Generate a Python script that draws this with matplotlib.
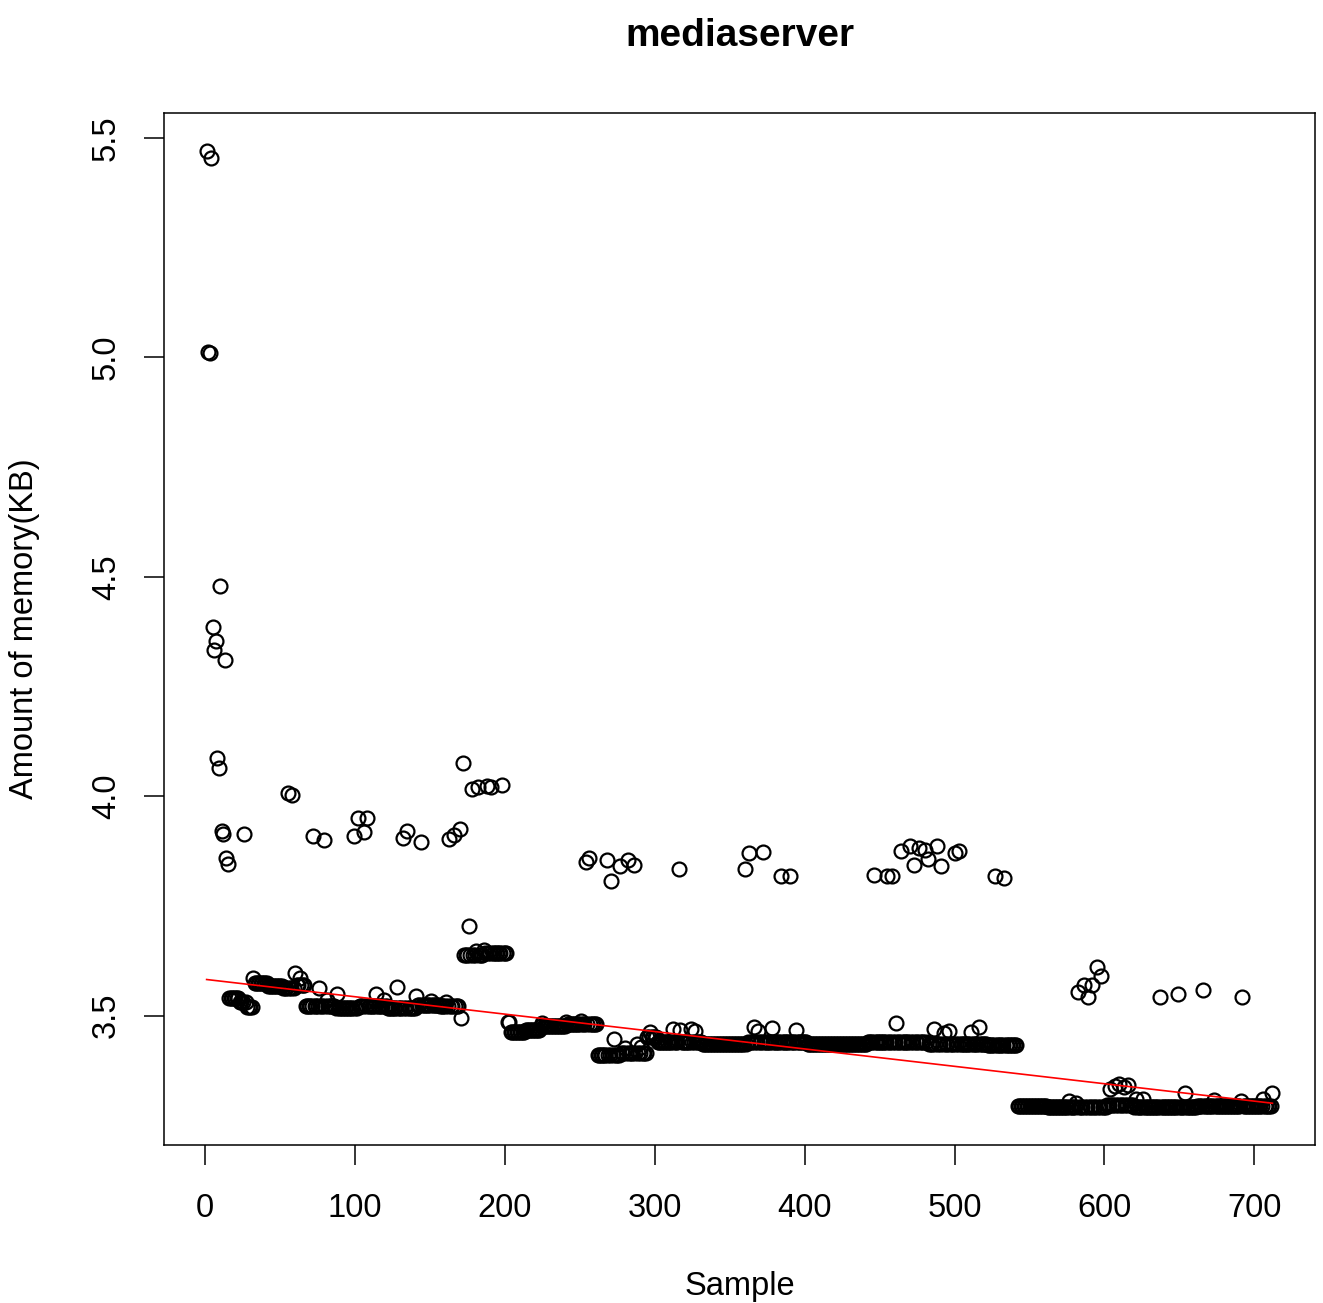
import numpy as np
import matplotlib
matplotlib.use("Agg")
from matplotlib import pyplot as plt

# ---------------- data ----------------
n_samples = 712

# flat bands of the memory trace: first sample, last sample, level (KB)
band_start = [15, 22, 27, 31, 41, 51, 59, 66, 86, 101, 121, 141, 156, 170,
              171, 186, 201, 203, 213, 223, 241, 261, 276,
              294, 301, 331, 361, 401, 441, 481, 521,
              541, 561, 601, 619, 661]
band_end = [21, 26, 30, 40, 50, 58, 65, 85, 100, 120, 140, 155, 169, 170,
            185, 200, 202, 212, 222, 240, 260, 275, 293,
            300, 330, 360, 400, 440, 480, 520, 540,
            560, 600, 618, 660, 711]
band_level = [3.540, 3.530, 3.519, 3.575, 3.568, 3.562, 3.570, 3.522, 3.518,
              3.522, 3.518, 3.525, 3.522, 3.494,
              3.638, 3.642, 3.485, 3.462, 3.468, 3.475, 3.480, 3.410, 3.414,
              3.452, 3.440, 3.434, 3.440, 3.436, 3.440, 3.436, 3.432,
              3.294, 3.292, 3.296, 3.292, 3.294]

# single samples that sit off the bands
spike_idx = [0, 1, 2, 3, 4, 5, 6, 7, 8, 9, 10, 11, 12, 13, 14,
             25, 54, 57, 71, 78, 98, 101, 105, 107, 131, 134, 143,
             162, 165, 169, 171, 175, 177, 181, 187, 190, 197,
             253, 255, 267, 270, 276, 281, 285, 315,
             359, 362, 371, 383, 389, 445, 454, 457,
             463, 469, 472, 475, 479, 481, 487, 490, 499, 502, 526, 532,
             581, 585, 588, 591, 594, 597, 636, 648, 665, 691,
             # small bumps just above the bands
             31, 59, 62, 75, 80, 87, 113, 118, 127, 140, 150, 160,
             180, 185, 224, 240, 250, 272, 279, 287, 290,
             296, 311, 316, 323, 326, 365, 368, 377, 393, 460, 485,
             492, 495, 510, 515,
             575, 580, 603, 606, 609, 612, 615, 620, 625, 653, 672,
             690, 705, 711]
spike_val = [5.470, 5.013, 5.009, 5.454, 4.385, 4.332, 4.353, 4.087, 4.065,
             4.478, 3.921, 3.914, 4.311, 3.859, 3.845,
             3.914, 4.007, 4.003, 3.909, 3.900, 3.909, 3.951, 3.919, 3.951,
             3.905, 3.921, 3.896, 3.903, 3.912, 3.925, 4.076, 3.703,
             4.017, 4.021, 4.023, 4.021, 4.026,
             3.850, 3.859, 3.854, 3.806, 3.841, 3.854, 3.843, 3.834,
             3.834, 3.870, 3.873, 3.818, 3.818, 3.820, 3.818, 3.818,
             3.875, 3.886, 3.843, 3.882, 3.877, 3.857, 3.886, 3.841,
             3.870, 3.875, 3.818, 3.813,
             3.553, 3.569, 3.543, 3.569, 3.610, 3.591, 3.543, 3.550,
             3.559, 3.543,
             3.585, 3.597, 3.585, 3.562, 3.535, 3.548, 3.548, 3.535,
             3.566, 3.545, 3.532, 3.530,
             3.646, 3.649, 3.484, 3.486, 3.487, 3.446, 3.425, 3.436, 3.428,
             3.462, 3.470, 3.468, 3.470, 3.465, 3.473, 3.465, 3.472, 3.466,
             3.482, 3.470, 3.460, 3.465, 3.462, 3.473,
             3.305, 3.300, 3.333, 3.340, 3.343, 3.338, 3.342, 3.310, 3.310,
             3.323, 3.308, 3.305, 3.310, 3.323]

memory = np.zeros(n_samples)
for s, e, lev in zip(band_start, band_end, band_level):
    memory[s:e + 1] = lev
memory[spike_idx] = spike_val
sample = np.arange(1, n_samples + 1)

# trend of the baseline (spikes above 3.7 KB left out of the fit)
base = memory < 3.7
slope, intercept = np.polyfit(sample[base], memory[base], 1)

# ---------------- figure ----------------
plt.rcParams['font.family'] = ['Liberation Sans', 'DejaVu Sans']

W, H = 1323, 1303
fig = plt.figure(figsize=(W / 100, H / 100), dpi=100)
ax = fig.add_axes([164 / W, (H - 1145) / H, (1315 - 164) / W, (1145 - 113) / H])

ax.plot(sample, memory, 'o', ms=10, mfc='none', mec='black', mew=1.6)
xl = np.array([sample.min(), sample.max()])
ax.plot(xl, intercept + slope * xl, color='red', lw=1.2)

# R style 4% padding
xr = sample.max() - sample.min()
yr = memory.max() - memory.min()
ax.set_xlim(sample.min() - 0.04 * xr, sample.max() + 0.04 * xr)
ax.set_ylim(memory.min() - 0.04 * yr, memory.max() + 0.04 * yr)

ax.set_xticks(np.arange(0, 701, 100))
ax.set_yticks([3.5, 4.0, 4.5, 5.0, 5.5])
ax.set_yticklabels(['3.5', '4.0', '4.5', '5.0', '5.5'])
ax.tick_params(axis='x', length=14.4, width=1.1, labelsize=23.5, pad=20)
ax.tick_params(axis='y', length=14.4, width=1.1, labelsize=23.5, pad=16,
               labelrotation=90)
for lab in ax.get_yticklabels():
    lab.set_va('center')
for sp in ax.spines.values():
    sp.set_linewidth(1.1)

ax.set_title('mediaserver', fontsize=28, fontweight='bold', pad=48)
ax.set_xlabel('Sample', fontsize=23.5, va='center')
ax.xaxis.set_label_coords(0.5, (1145 - 1287) / (1145 - 113))
ax.set_ylabel('Amount of memory(KB)', fontsize=23.5, va='center')
ax.yaxis.set_label_coords((25 - 164) / (1315 - 164), 0.5)

fig.savefig('out.png', dpi=100)
